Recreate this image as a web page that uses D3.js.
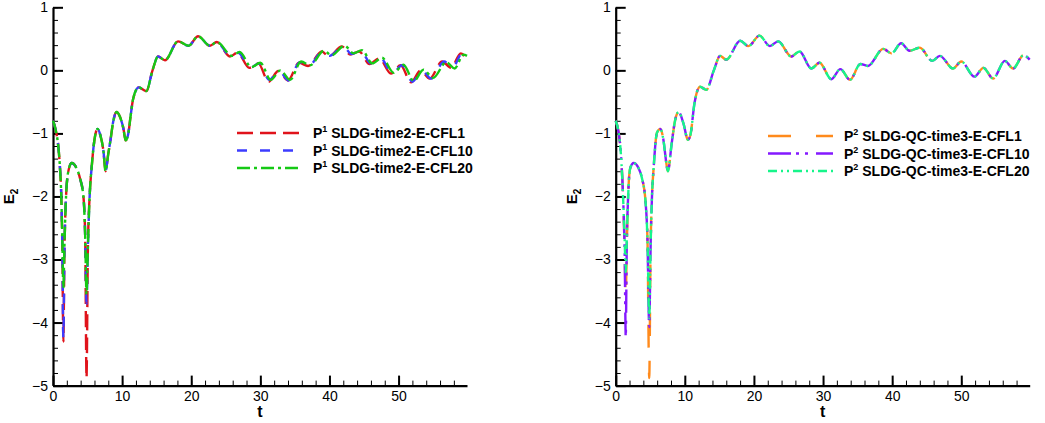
<!DOCTYPE html>
<html>
<head>
<meta charset="utf-8">
<script src="https://cdn.jsdelivr.net/npm/d3@7"></script>
<style>
  body { margin: 0; background: #fff; }
  svg { display: block; }
  text { font-family: "Liberation Sans", Arial, sans-serif; fill: #000; }
</style>
</head>
<body>
<svg id="chart" width="1045" height="423"></svg>
<script>
// Axis ticks
const timeTicks = [0, 10, 20, 30, 40, 50];
const timeMinorTicks = d3.range(0, 60, 2);
const energyTicks = [1, 0, -1, -2, -3, -4, -5];
const energyMinorTicks = d3.range(-5, 1.0001, 0.2).map(v => +v.toFixed(1));

// Series names
const namesP1 = ["SLDG-time2-E-CFL1", "SLDG-time2-E-CFL10", "SLDG-time2-E-CFL20"];
const namesP2 = ["SLDG-QC-time3-E-CFL1", "SLDG-QC-time3-E-CFL10", "SLDG-QC-time3-E-CFL20"];

// P1 runs: [t, E2]
const p1Cfl1 = [[0,-0.80],[0.4,-0.95],[0.77,-1.21],[1.0,-1.53],[1.2,-2.0],[1.35,-2.8],[1.5,-4.3],[1.65,-2.9],[1.85,-2.1],[2.2,-1.61],[2.7,-1.47],[3.4,-1.55],[3.9,-1.71],[4.4,-2.0],[4.65,-2.6],[4.85,-4.88],[5.05,-2.8],[5.3,-2.0],[5.6,-1.53],[6.0,-1.1],[6.45,-0.93],[6.9,-1.05],[7.3,-1.28],[7.6,-1.6],[8.0,-1.32],[8.3,-1.12],[8.7,-0.82],[9.2,-0.66],[9.7,-0.74],[10.2,-0.93],[10.5,-1.11],[10.9,-1.0],[11.2,-0.75],[11.6,-0.45],[12.4,-0.27],[13.5,-0.33],[14.4,0.0],[15.2,0.22],[16.2,0.16],[18.1,0.46],[19.6,0.39],[21.0,0.54],[22.7,0.39],[23.7,0.45],[25.6,0.22],[26.7,0.28],[28.4,0.04],[29.7,0.11],[31.2,-0.18],[32.6,-0.01],[34.0,-0.16],[35.6,0.12],[36.9,0.07],[38.9,0.30],[39.9,0.22],[41.8,0.38],[43.0,0.25],[44.3,0.30],[45.8,0.10],[47.2,0.19],[48.9,-0.05],[50.3,0.08],[51.8,-0.19],[53.2,0.0],[54.5,-0.13],[56.3,0.14],[57.6,0.04],[59.0,0.27],[59.9,0.17]];
const p1Cfl10 = [[0,-0.80],[0.4,-0.95],[0.77,-1.21],[1.0,-1.53],[1.2,-2.0],[1.35,-2.8],[1.5,-4.25],[1.65,-2.9],[1.85,-2.1],[2.2,-1.61],[2.7,-1.47],[3.4,-1.55],[3.9,-1.71],[4.4,-2.0],[4.65,-2.6],[4.85,-3.7],[5.05,-2.8],[5.3,-2.0],[5.6,-1.53],[6.0,-1.1],[6.45,-0.93],[6.9,-1.05],[7.3,-1.28],[7.6,-1.6],[8.0,-1.32],[8.3,-1.12],[8.7,-0.82],[9.2,-0.66],[9.7,-0.74],[10.2,-0.93],[10.5,-1.11],[10.9,-1.0],[11.2,-0.75],[11.6,-0.45],[12.4,-0.27],[13.5,-0.33],[14.4,0.0],[15.2,0.22],[16.2,0.16],[18.1,0.46],[19.6,0.39],[21.0,0.54],[22.7,0.39],[23.7,0.45],[25.7,0.22],[26.8,0.28],[28.5,0.04],[29.8,0.11],[31.3,-0.15],[32.7,-0.01],[34.1,-0.16],[35.7,0.13],[37.0,0.07],[39.0,0.30],[40.0,0.23],[42.0,0.38],[43.2,0.26],[44.5,0.31],[46.0,0.11],[47.4,0.19],[49.1,-0.05],[50.5,0.08],[52.0,-0.18],[53.4,0.0],[54.7,-0.13],[56.6,0.14],[57.8,0.04],[59.2,0.27],[59.9,0.21]];
const p1Cfl20 = [[0,-0.80],[0.4,-0.95],[0.77,-1.21],[1.0,-1.53],[1.2,-2.0],[1.35,-2.7],[1.5,-3.45],[1.65,-2.8],[1.85,-2.1],[2.2,-1.61],[2.7,-1.47],[3.4,-1.55],[3.9,-1.71],[4.4,-2.0],[4.65,-2.6],[4.85,-3.55],[5.05,-2.8],[5.3,-2.0],[5.6,-1.53],[6.0,-1.1],[6.45,-0.93],[6.9,-1.05],[7.3,-1.28],[7.6,-1.6],[8.0,-1.32],[8.3,-1.12],[8.7,-0.82],[9.2,-0.66],[9.7,-0.74],[10.2,-0.93],[10.5,-1.11],[10.9,-1.0],[11.2,-0.75],[11.6,-0.45],[12.4,-0.27],[13.5,-0.33],[14.4,0.0],[15.2,0.22],[16.2,0.16],[18.1,0.46],[19.6,0.39],[21.0,0.54],[22.7,0.39],[23.7,0.45],[25.9,0.23],[27.0,0.29],[28.7,0.05],[30.0,0.12],[31.5,-0.15],[32.9,0.0],[34.3,-0.15],[35.9,0.14],[37.2,0.08],[39.2,0.31],[40.3,0.24],[42.2,0.39],[43.5,0.27],[44.7,0.32],[46.2,0.11],[47.6,0.20],[49.3,-0.04],[50.7,0.09],[52.2,-0.17],[53.6,0.01],[55.0,-0.12],[56.9,0.13],[58.1,0.03],[59.4,0.25],[59.9,0.23]];

// P2 runs: [t, E2]
const p2Cfl1 = [[0,-0.80],[0.4,-0.97],[0.67,-1.21],[0.85,-1.5],[1.1,-2.1],[1.3,-2.9],[1.45,-3.62],[1.6,-2.8],[1.8,-2.0],[2.1,-1.55],[2.6,-1.47],[3.3,-1.55],[3.8,-1.71],[4.3,-2.06],[4.6,-2.7],[4.85,-4.88],[5.05,-2.8],[5.25,-2.0],[5.5,-1.53],[5.97,-0.99],[6.45,-0.93],[6.9,-1.1],[7.3,-1.45],[7.55,-1.6],[8.1,-1.16],[8.6,-0.79],[9.1,-0.66],[9.8,-0.84],[10.45,-1.1],[10.8,-1.03],[11.4,-0.52],[12.2,-0.26],[13.1,-0.31],[14.2,0.0],[15.1,0.23],[16.0,0.17],[18.0,0.47],[19.2,0.385],[20.8,0.55],[22.3,0.385],[23.5,0.46],[25.4,0.22],[26.6,0.30],[28.3,0.03],[29.5,0.12],[31.2,-0.14],[32.5,0.02],[33.9,-0.15],[35.4,0.10],[36.5,0.07],[38.7,0.34],[39.9,0.27],[41.3,0.43],[42.5,0.31],[44.0,0.36],[45.8,0.15],[46.9,0.23],[48.8,0.03],[50.0,0.14],[51.9,-0.10],[53.2,0.04],[54.6,-0.13],[56.3,0.15],[57.5,0.03],[59.0,0.24],[59.9,0.17]];
const p2Cfl10 = [[0,-0.80],[0.4,-0.97],[0.67,-1.21],[0.85,-1.5],[1.1,-2.1],[1.3,-2.9],[1.45,-4.22],[1.6,-2.8],[1.8,-2.0],[2.1,-1.55],[2.6,-1.47],[3.3,-1.55],[3.8,-1.71],[4.3,-2.06],[4.6,-2.7],[4.85,-4.07],[5.05,-2.8],[5.25,-2.0],[5.5,-1.53],[5.97,-0.99],[6.45,-0.93],[6.9,-1.1],[7.3,-1.45],[7.55,-1.6],[8.1,-1.16],[8.6,-0.79],[9.1,-0.66],[9.8,-0.84],[10.45,-1.1],[10.8,-1.03],[11.4,-0.52],[12.2,-0.26],[13.1,-0.31],[14.2,0.0],[15.1,0.23],[16.0,0.17],[18.0,0.47],[19.2,0.385],[20.8,0.55],[22.3,0.385],[23.5,0.46],[25.4,0.22],[26.6,0.30],[28.3,0.03],[29.5,0.12],[31.2,-0.14],[32.5,0.02],[33.9,-0.15],[35.4,0.10],[36.5,0.07],[38.7,0.34],[39.9,0.27],[41.3,0.43],[42.5,0.31],[44.0,0.36],[45.8,0.15],[46.9,0.23],[48.8,0.03],[50.0,0.14],[51.9,-0.10],[53.2,0.04],[54.6,-0.13],[56.3,0.15],[57.5,0.03],[59.0,0.24],[59.9,0.17]];
const p2Cfl20 = [[0,-0.80],[0.4,-0.97],[0.67,-1.21],[0.85,-1.5],[1.1,-2.1],[1.3,-2.7],[1.45,-3.2],[1.6,-2.7],[1.8,-2.0],[2.1,-1.55],[2.6,-1.47],[3.3,-1.55],[3.8,-1.71],[4.3,-2.06],[4.6,-2.7],[4.85,-3.93],[5.05,-2.8],[5.25,-2.0],[5.5,-1.53],[5.97,-0.99],[6.45,-0.93],[6.9,-1.1],[7.3,-1.45],[7.55,-1.6],[8.1,-1.16],[8.6,-0.79],[9.1,-0.66],[9.8,-0.84],[10.45,-1.1],[10.8,-1.03],[11.4,-0.52],[12.2,-0.26],[13.1,-0.31],[14.2,0.0],[15.1,0.23],[16.0,0.17],[18.0,0.47],[19.2,0.385],[20.8,0.55],[22.3,0.385],[23.5,0.46],[25.4,0.22],[26.6,0.30],[28.3,0.03],[29.5,0.12],[31.2,-0.14],[32.5,0.02],[33.9,-0.15],[35.4,0.10],[36.5,0.07],[38.7,0.34],[39.9,0.27],[41.3,0.43],[42.5,0.31],[44.0,0.36],[45.8,0.15],[46.9,0.23],[48.8,0.03],[50.0,0.14],[51.9,-0.10],[53.2,0.04],[54.6,-0.13],[56.3,0.15],[57.5,0.03],[59.0,0.24],[59.9,0.17]];

const svg = d3.select("#chart");

function drawPanel(cfg) {
  const x = d3.scaleLinear().domain([0, 59.9]).range([cfg.left, cfg.left + 414]);
  const y = d3.scaleLinear().domain([-5, 1]).range([385.6, 7.3]);
  const g = svg.append("g");

  // minor ticks (inward)
  g.append("g").attr("transform", `translate(0,${y(-5)})`)
    .call(d3.axisBottom(x).tickValues(timeMinorTicks).tickSize(-5).tickFormat(""))
    .call(a => a.select(".domain").remove())
    .call(a => a.selectAll("line").attr("stroke", "#000").attr("stroke-width", 1));
  g.append("g").attr("transform", `translate(${x(0)},0)`)
    .call(d3.axisLeft(y).tickValues(energyMinorTicks).tickSize(-5).tickFormat(""))
    .call(a => a.select(".domain").remove())
    .call(a => a.selectAll("line").attr("stroke", "#000").attr("stroke-width", 1));

  // major ticks and labels
  const xa = g.append("g").attr("transform", `translate(0,${y(-5)})`)
    .call(d3.axisBottom(x).tickValues(timeTicks).tickSizeInner(-10).tickSizeOuter(0).tickPadding(4).tickFormat(d3.format("d")));
  xa.select(".domain").attr("stroke", "#000").attr("stroke-width", 2.2);
  xa.selectAll(".tick line").attr("stroke", "#000").attr("stroke-width", 2);
  xa.selectAll(".tick text").attr("y", 5).attr("dy", "0.71em").style("font-size", "14px").style("font-family", "'Liberation Sans', Arial, sans-serif");

  const ya = g.append("g").attr("transform", `translate(${x(0)},0)`)
    .call(d3.axisLeft(y).tickValues(energyTicks).tickSizeInner(-10).tickSizeOuter(0).tickPadding(6).tickFormat(d3.format("d")));
  ya.select(".domain").attr("stroke", "#000").attr("stroke-width", 2.2);
  ya.selectAll(".tick line").attr("stroke", "#000").attr("stroke-width", 2);
  ya.selectAll(".tick text").attr("x", -5).style("font-size", "14px").style("font-family", "'Liberation Sans', Arial, sans-serif");

  // axis titles
  g.append("text")
    .attr("transform", `translate(${cfg.left - 39},${(y(1) + y(-5)) / 2}) rotate(-90)`)
    .attr("text-anchor", "middle")
    .style("font-size", "15px").style("font-weight", "bold")
    .call(t => {
      t.append("tspan").text("E");
      t.append("tspan").attr("dy", 4).style("font-size", "10px").text("2");
    });
  g.append("text")
    .attr("x", (x(0) + x(59.9)) / 2).attr("y", 417)
    .attr("text-anchor", "middle")
    .style("font-size", "16px").style("font-weight", "bold")
    .text("t");

  // curves
  const line = d3.line().x(d => x(d[0])).y(d => y(d[1])).curve(d3.curveMonotoneX);
  cfg.series.forEach(s => {
    g.append("path").datum(s.data)
      .attr("fill", "none").attr("stroke", s.color).attr("stroke-width", 2.4)
      .attr("stroke-dasharray", s.dash).attr("stroke-linejoin", "round")
      .attr("d", line);
  });

  // legend
  const lg = g.append("g");
  cfg.series.forEach((s, i) => {
    const yy = cfg.legendY + i * 17.5;
    lg.append("line")
      .attr("x1", cfg.legendX).attr("x2", cfg.legendX + 65)
      .attr("y1", yy).attr("y2", yy)
      .attr("stroke", s.color).attr("stroke-width", 2.4).attr("stroke-dasharray", s.dash);
    const tx = lg.append("text").attr("x", cfg.legendX + 76).attr("y", yy + 5)
      .style("font-size", "14px").style("font-weight", "bold");
    tx.append("tspan").text("P");
    tx.append("tspan").attr("dy", -6).style("font-size", "9px").text(cfg.order);
    tx.append("tspan").attr("dy", 6).text("\u00a0" + s.name);
  });
}

drawPanel({
  left: 53, legendX: 237, legendY: 133, order: "1",
  series: [
    { data: p1Cfl1, name: namesP1[0], color: "#e0131b", dash: "16 7" },
    { data: p1Cfl10, name: namesP1[1], color: "#3c3cff", dash: "10 13" },
    { data: p1Cfl20, name: namesP1[2], color: "#15c915", dash: "13 4 3 4" }
  ]
});

drawPanel({
  left: 615.7, legendX: 768, legendY: 136, order: "2",
  series: [
    { data: p2Cfl1, name: namesP2[0], color: "#ff8a1c", dash: "23 25" },
    { data: p2Cfl10, name: namesP2[1], color: "#8419ff", dash: "23 5 3 6 3 8" },
    { data: p2Cfl20, name: namesP2[2], color: "#17f58a", dash: "9 4 2 4 2 4" }
  ]
});
</script>
</body>
</html>
